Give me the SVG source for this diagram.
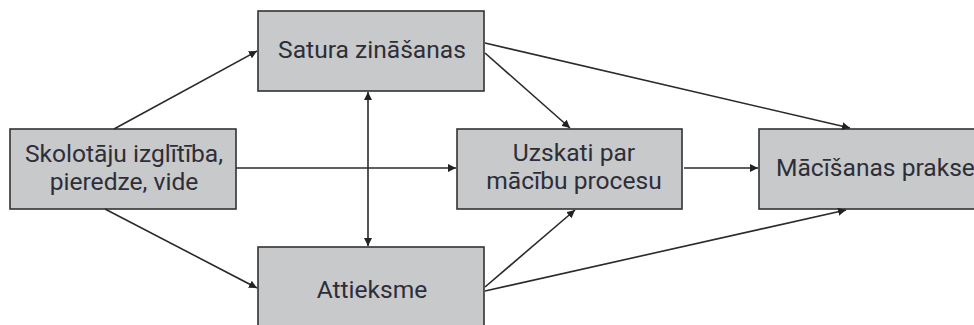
<svg xmlns="http://www.w3.org/2000/svg" width="974" height="325" viewBox="0 0 974 325">
<style>
.box{fill:#c8c9cb;stroke:#333;stroke-width:1.6}
.t{font-family:Roboto,"Liberation Sans",sans-serif;font-size:24.6px;fill:#2e2e38;text-anchor:middle}
.c line{stroke:#2a2a2a;stroke-width:1.6;fill:none}
</style>
<defs>
<marker id="ah" viewBox="0 0 10 10" refX="10" refY="5" markerWidth="8" markerHeight="8" markerUnits="userSpaceOnUse" orient="auto-start-reverse">
<path d="M0,0 L10,5 L0,10 z" fill="#222"/>
</marker>
</defs>
<rect width="974" height="325" fill="#fff"/>
<g id="n-satura"><rect class="box" x="258" y="11" width="226" height="80"/><text class="t" x="372" y="58">Satura zināšanas</text></g>
<g id="n-skolotaju"><rect class="box" x="10" y="129" width="226" height="80"/><text class="t" x="124" y="162">Skolotāju izglītība,</text><text class="t" x="124" y="190">pieredze, vide</text></g>
<g id="n-uzskati"><rect class="box" x="457" y="129" width="225" height="80"/><text class="t" x="574" y="161">Uzskati par</text><text class="t" x="574" y="189">mācību procesu</text></g>
<g id="n-macisanas"><rect class="box" x="759" y="129" width="240" height="80"/><text class="t" x="776" y="176" style="text-anchor:start">Mācīšanas prakse</text></g>
<g id="n-attieksme"><rect class="box" x="258" y="247" width="226" height="82"/><text class="t" x="372" y="298">Attieksme</text></g>
<g class="c" id="connectors">
<line x1="114" y1="129" x2="257" y2="51" marker-end="url(#ah)"/>
<line x1="105" y1="209" x2="257" y2="288" marker-end="url(#ah)"/>
<line x1="236" y1="168" x2="456" y2="168" marker-end="url(#ah)"/>
<line x1="368" y1="92" x2="368" y2="246" marker-start="url(#ah)" marker-end="url(#ah)"/>
<line x1="485" y1="53" x2="570" y2="128" marker-end="url(#ah)"/>
<line x1="485" y1="43" x2="850" y2="128" marker-end="url(#ah)"/>
<line x1="684" y1="168" x2="758" y2="168" marker-end="url(#ah)"/>
<line x1="485" y1="287" x2="575" y2="210" marker-end="url(#ah)"/>
<line x1="485" y1="291" x2="846" y2="210" marker-end="url(#ah)"/>
</g>
</svg>
